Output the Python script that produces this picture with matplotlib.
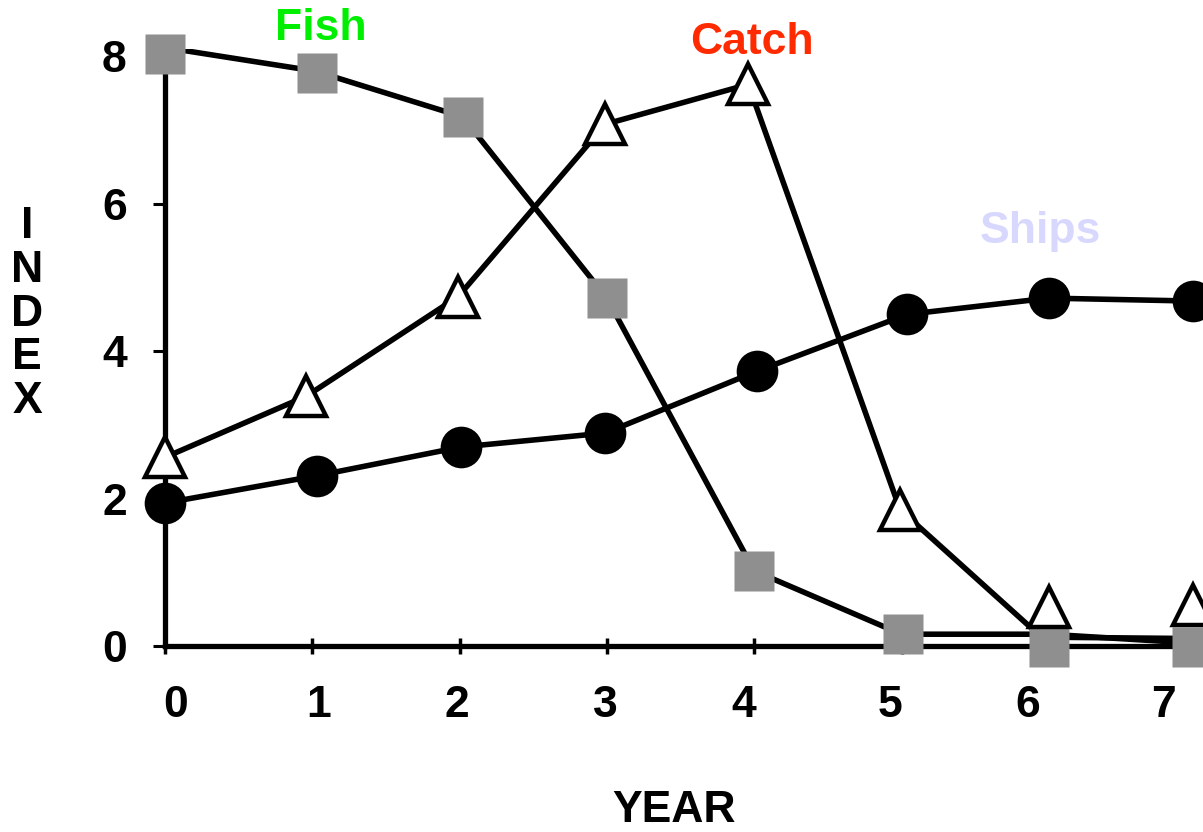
import matplotlib
matplotlib.use("Agg")
import matplotlib.pyplot as plt

# ---- data ----
years = [0, 1, 2, 3, 4, 5, 6, 7]
xtick_labels = ["0", "1", "2", "3", "4", "5", "6", "7"]
ytick_vals = [0, 2, 4, 6, 8]
ytick_labels = ["0", "2", "4", "6", "8"]

# Fish (grey squares)
fish_line_x = [0.0, 1.02, 2.02, 3.0, 4.0, 5.0, 6.0, 7.05]
fish_line_y = [8.12, 7.80, 7.18, 4.72, 1.02, 0.16, 0.16, 0.03]
fish_mark_x = [0.0, 1.03, 2.02, 3.0, 4.0, 5.01, 6.0, 6.97]
fish_mark_y = [8.03, 7.77, 7.18, 4.72, 1.02, 0.16, -0.02, -0.02]

# Catch (open triangles)
catch_line_x = [0.0, 0.96, 1.99, 2.99, 3.96, 4.99, 5.95, 7.05]
catch_line_y = [2.56, 3.39, 4.74, 7.08, 7.62, 1.85, 0.12, 0.10]
catch_mark_x = [0.0, 0.96, 1.99, 2.99, 3.96, 4.99, 6.0, 6.98]
catch_mark_y = [2.56, 3.39, 4.74, 7.08, 7.62, 1.85, 0.53, 0.56]

# Ships (black circles)
ships_x = [0.0, 1.03, 2.01, 2.99, 4.02, 5.04, 6.0, 6.98]
ships_y = [1.94, 2.31, 2.70, 2.89, 3.73, 4.50, 4.72, 4.68]

# tick label positions (slightly offset from tick marks in the original)
xlabel_pos = [0.075, 1.04, 1.98, 2.99, 3.93, 4.92, 5.86, 6.78]

W, H = 1203, 832
fig = plt.figure(figsize=(W / 100, H / 100), dpi=100)
plt.rcParams['font.family'] = ['Liberation Sans', 'DejaVu Sans']

ax = fig.add_axes([165 / W, 186 / H, (W - 165) / W, 597 / H])
ax.set_xlim(0, 1038 / 147.3)
ax.set_ylim(0, 8.1)

lw = 4.0
ax.plot(fish_line_x, fish_line_y, color='black', lw=lw, zorder=2, solid_capstyle='butt')
ax.plot(catch_line_x, catch_line_y, color='black', lw=lw, zorder=2, solid_capstyle='butt')
ax.plot(ships_x, ships_y, color='black', lw=lw, zorder=2, solid_capstyle='butt')

ax.plot(fish_mark_x, fish_mark_y, ls='none', marker='s', ms=29.5, mfc='#8f8f8f',
        mec='none', zorder=4, clip_on=False)
ax.plot(catch_mark_x, catch_mark_y, ls='none', marker='^', ms=29, mfc='white',
        mec='black', mew=3.2, zorder=5, clip_on=False)
ax.plot(ships_x, ships_y, ls='none', marker='o', ms=30, mfc='black',
        mec='none', zorder=4, clip_on=False)

for s in ['top', 'right']:
    ax.spines[s].set_visible(False)
for s in ['left', 'bottom']:
    ax.spines[s].set_linewidth(3.8)
    ax.spines[s].set_zorder(1)

# x ticks: marks at integers, labels at offset positions
ax.set_xticks(years)
ax.set_xticklabels([])
ax.tick_params(axis='x', which='major', direction='inout', length=12, width=2.5)
ax.set_xticks(xlabel_pos, minor=True)
ax.set_xticklabels(xtick_labels, minor=True, fontsize=32, fontweight='bold')
ax.tick_params(axis='x', which='minor', length=0, pad=28)

ax.set_yticks(ytick_vals)
ax.set_yticklabels(ytick_labels, fontsize=32, fontweight='bold')
ax.tick_params(axis='y', which='major', direction='out', length=8.5, width=2.2, pad=19)

def ftext(x, y, s, **kw):
    fig.text(x / W, 1 - y / H, s, ha='center', va='center', fontsize=32,
             fontweight='bold', **kw)

ftext(321, 29, "Fish", color='#00ee00')
ftext(752, 43, "Catch", color='#ff2a00')
ftext(1040, 232, "Ships", color='#d8d8ff')
ftext(674, 810, "YEAR", color='black')
ftext(27, 314, "I\nN\nD\nE\nX", color='black', linespacing=1.08, multialignment='center')

fig.savefig("out.png", dpi=100)
